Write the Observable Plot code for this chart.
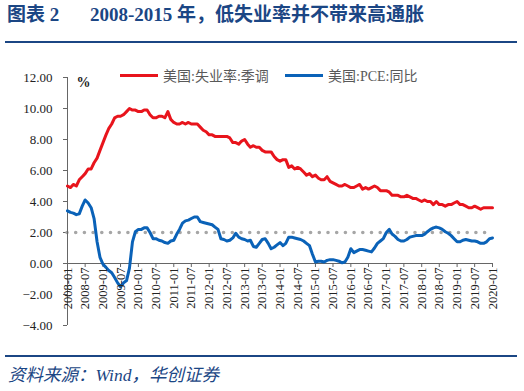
<!DOCTYPE html>
<html><head><meta charset="utf-8">
<script src="https://cdn.jsdelivr.net/npm/d3@7"></script>
<script src="https://cdn.jsdelivr.net/npm/@observablehq/plot@0.6"></script>
<style>
html,body{margin:0;padding:0;}
body{width:524px;height:391px;position:relative;background:#fff;overflow:hidden;font-family:"Liberation Serif","Noto Sans CJK SC",serif;}
.t{position:absolute;top:4px;font-size:19px;line-height:22px;font-weight:bold;color:#1b4684;white-space:pre;}
.hr{position:absolute;left:5px;width:512px;height:2px;background:#1b4684;}
#chart{position:absolute;left:0;top:44px;}
#source{position:absolute;left:8px;top:364px;font-size:17.5px;line-height:22px;font-style:italic;color:#1b4684;white-space:pre;}
.leg{position:absolute;top:66px;height:18px;font-size:14px;color:#595959;font-family:"Liberation Serif","Noto Sans CJK SC",serif;display:flex;align-items:center;white-space:pre;}
.sw{display:inline-block;width:38px;height:3px;margin-right:5px;}
</style></head>
<body>
<div class="t" style="left:7px">图表 2</div>
<div class="t" style="left:90px">2008-2015 年，低失业率并不带来高通胀</div>
<div class="hr" style="top:41px"></div>
<div id="chart"></div>
<div class="leg" style="left:120px"><span class="sw" style="background:#e8141c"></span>美国:失业率:季调</div>
<div class="leg" style="left:285px"><span class="sw" style="background:#0a62b8"></span>美国:PCE:同比</div>
<div class="hr" style="top:355px"></div>
<div id="source">资料来源：Wind，华创证券</div>
<script>
// Monthly series, 2008-01 .. 2020-01
const startMonth = "2008-01";
const unemployment = [
  5.0,4.9,5.1,5.0,5.4,5.6,5.8,6.1,6.1,6.5,6.8,7.3,
  7.8,8.3,8.7,9.0,9.4,9.5,9.5,9.6,9.8,10.0,9.9,9.9,
  9.8,9.8,9.9,9.9,9.6,9.4,9.4,9.5,9.5,9.4,9.8,9.3,
  9.1,9.0,9.0,9.1,9.0,9.1,9.0,9.0,9.0,8.8,8.6,8.5,
  8.3,8.3,8.2,8.2,8.2,8.2,8.2,8.1,7.8,7.8,7.7,7.9,
  8.0,7.7,7.5,7.6,7.5,7.5,7.3,7.2,7.2,7.2,6.9,6.7,
  6.6,6.7,6.7,6.2,6.3,6.1,6.2,6.1,5.9,5.7,5.8,5.6,
  5.7,5.5,5.4,5.4,5.6,5.3,5.2,5.1,5.0,5.0,5.1,5.0,
  4.9,4.9,5.0,5.1,4.8,4.9,4.8,4.9,5.0,4.9,4.7,4.7,
  4.7,4.6,4.4,4.4,4.4,4.3,4.3,4.4,4.3,4.2,4.2,4.1,
  4.0,4.1,4.0,4.0,3.8,4.0,3.8,3.8,3.7,3.8,3.8,3.9,
  4.0,3.8,3.8,3.7,3.6,3.6,3.7,3.6,3.5,3.6,3.6,3.6,
  3.6
];
const pce = [
  3.4,3.3,3.25,3.15,3.2,3.7,4.1,3.9,3.6,2.9,1.4,0.4,
  -0.05,-0.25,-0.45,-0.6,-0.9,-1.25,-1.5,-1.25,-1.1,-0.3,1.4,2.05,
  2.2,2.2,2.3,2.3,2.0,1.6,1.6,1.5,1.45,1.35,1.3,1.45,
  1.5,1.9,2.2,2.6,2.75,2.8,2.9,3.0,3.0,2.7,2.65,2.6,
  2.55,2.5,2.35,2.2,1.6,1.55,1.45,1.5,1.65,1.95,1.7,1.6,
  1.55,1.45,1.5,1.1,1.05,1.3,1.55,1.6,1.3,0.95,1.05,1.2,
  1.35,1.15,1.3,1.7,1.7,1.65,1.6,1.55,1.45,1.3,1.15,0.6,
  0.1,0.15,0.15,0.1,0.2,0.25,0.25,0.2,0.15,0.05,0.1,0.4,
  0.95,0.7,0.8,0.9,0.9,0.85,0.8,0.75,1.0,1.3,1.45,1.6,
  2.0,2.2,1.9,1.75,1.55,1.45,1.45,1.55,1.7,1.75,1.8,1.8,
  1.8,1.9,2.05,2.2,2.3,2.35,2.3,2.2,2.05,1.95,1.8,1.6,
  1.4,1.4,1.5,1.55,1.5,1.45,1.45,1.4,1.3,1.3,1.4,1.6,
  1.65
];
const refLevel = [2];
const yTicks = [-4,-2,0,2,4,6,8,10,12];
const xTickLabels = [
  "2008-01","2008-07","2009-01","2009-07","2010-01","2010-07","2011-01","2011-07",
  "2012-01","2012-07","2013-01","2013-07","2014-01","2014-07","2015-01","2015-07",
  "2016-01","2016-07","2017-01","2017-07","2018-01","2018-07","2019-01","2019-07","2020-01"
];
const unitLabel = ["%"];

const parse = d3.utcParse("%Y-%m");
const t0 = parse(startMonth);
const monthOf = i => d3.utcMonth.offset(t0, i);
const unempData = unemployment.map((v,i)=>({date:monthOf(i), value:v}));
const pceData = pce.map((v,i)=>({date:monthOf(i), value:v}));
const tEnd = monthOf(unemployment.length-1);

const chart = Plot.plot({
  width:524, height:300,
  marginLeft:67, marginRight:32, marginTop:33, marginBottom:19,
  x:{type:"utc", domain:[t0, tEnd], axis:null},
  y:{domain:[-4,12], axis:null},
  style:{fontFamily:"Liberation Serif", fontSize:"13px", color:"#222", background:"transparent", overflow:"visible"},
  marks:[
    Plot.axisY({ticks:yTicks, tickFormat:d3.format(".2f"), tickSize:4, tickPadding:11, fontSize:13, stroke:"#666", color:"#222", label:null}),
    Plot.ruleY(refLevel, {x1:t0, x2:tEnd, stroke:"#a6a6a6", strokeWidth:3.6, strokeDasharray:"0,8.7", strokeLinecap:"round"}),
    Plot.ruleX([t0], {y1:-4, y2:12, stroke:"#666", strokeWidth:1}),
    Plot.ruleY([0], {x1:t0, x2:tEnd, stroke:"#666", strokeWidth:1}),
    Plot.ruleX(xTickLabels, {x:d=>parse(d), y1:0, y2:-0.26, stroke:"#666"}),
    Plot.lineY(unempData, {x:"date", y:"value", stroke:"#e8141c", strokeWidth:3}),
    Plot.lineY(pceData, {x:"date", y:"value", stroke:"#0a62b8", strokeWidth:3}),
    Plot.text(xTickLabels, {x:d=>parse(d), y:0, text:d=>d, rotate:-90, textAnchor:"end", dy:4, fontSize:12.5, fill:"#222"}),
    Plot.text(unitLabel, {x:()=>t0, y:()=>12, text:d=>d, dx:16, dy:5, fontSize:14, fontWeight:"bold", fontFamily:"Liberation Serif", fill:"#222"})
  ]
});
document.getElementById("chart").appendChild(chart);
</script>
</body></html>
